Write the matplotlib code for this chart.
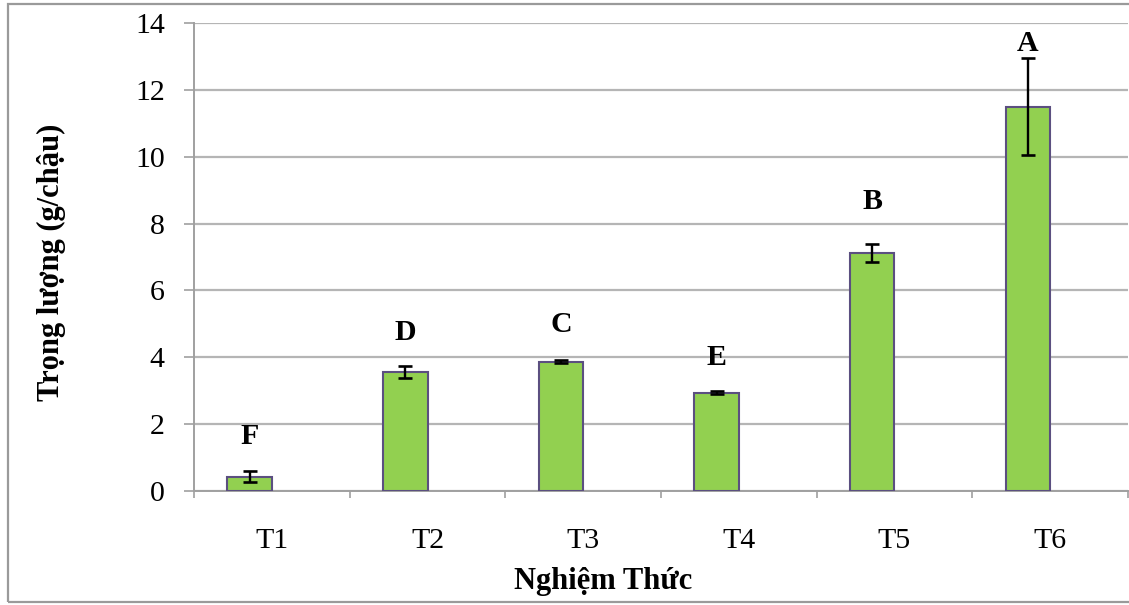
import matplotlib
matplotlib.use("Agg")
import matplotlib.pyplot as plt
from matplotlib.patches import Rectangle
import numpy as np

# ---- data ----
categories = ["T1", "T2", "T3", "T4", "T5", "T6"]
means = [0.43, 3.57, 3.87, 2.94, 7.12, 11.49]
errors = [0.17, 0.18, 0.05, 0.04, 0.28, 1.45]
letters = ["F", "D", "C", "E", "B", "A"]
letter_y = [1.62, 4.73, 4.97, 3.98, 8.66, 13.4]
y_ticks = [0, 2, 4, 6, 8, 10, 12, 14]

plt.rcParams['font.family'] = ['Liberation Serif', 'DejaVu Serif']

W, H = 1129, 605
fig = plt.figure(figsize=(W / 100, H / 100), dpi=100)

# axes placement in pixel coords
x0, x1 = 194, 1128
y_bot, y_top = 491, 23
ax = fig.add_axes([x0 / W, 1 - y_bot / H, (x1 - x0) / W, (y_bot - y_top) / H])

n = len(categories)
x = np.arange(n)
bar_w = 1 / 3.5
offset = -0.5 * bar_w

ax.bar(x + offset, means, width=bar_w, color='#92D050', edgecolor='#5b4f80',
       linewidth=1.5, zorder=3)
ax.errorbar(x + offset, means, yerr=errors, fmt='none', ecolor='black',
            elinewidth=1.7, capsize=4.8, capthick=1.9, zorder=4)

for xi, lab, ly in zip(x + offset, letters, letter_y):
    ax.text(xi, ly, lab, ha='center', va='center', fontsize=21.5,
            fontweight='bold', zorder=5)

ax.set_xlim(-0.5, n - 0.5)
ax.set_ylim(0, 14)
ax.set_yticks(y_ticks)
ax.set_yticklabels([str(t) for t in y_ticks], fontsize=21.5)
ax.set_xticks(x)
ax.set_xticklabels(categories, fontsize=21.5)
ax.set_xticks(np.arange(n + 1) - 0.5, minor=True)

ax.tick_params(axis='y', which='major', direction='out', length=7, width=1.2,
               color='#a0a0a0', pad=14)
ax.tick_params(axis='x', which='major', length=0, pad=27)
ax.tick_params(axis='x', which='minor', direction='out', length=5, width=1.2,
               color='#a0a0a0')

ax.yaxis.grid(True, color='#b5b5b5', linewidth=1.6, zorder=0)
ax.set_axisbelow(True)
for s in ['top', 'right']:
    ax.spines[s].set_visible(False)
ax.spines['left'].set_color('#a0a0a0')
ax.spines['left'].set_linewidth(1.4)
ax.spines['bottom'].set_color('#a0a0a0')
ax.spines['bottom'].set_linewidth(1.4)

fig.text(603 / W, 1 - 582 / H, "Nghiệm Thức", ha='center', va='center',
         fontsize=22, fontweight='bold')
fig.text(51 / W, 1 - 262 / H, "Trọng lượng (g/chậu)", ha='center', va='center',
         rotation=90, fontsize=22, fontweight='bold')

# outer chart border
fig.patches.append(Rectangle((8 / W, 1 - 602 / H), (W + 10 - 8) / W, (602 - 4) / H,
                             transform=fig.transFigure, fill=False,
                             edgecolor='#9a9a9a', linewidth=1.6))

fig.savefig("out.png", dpi=100)
